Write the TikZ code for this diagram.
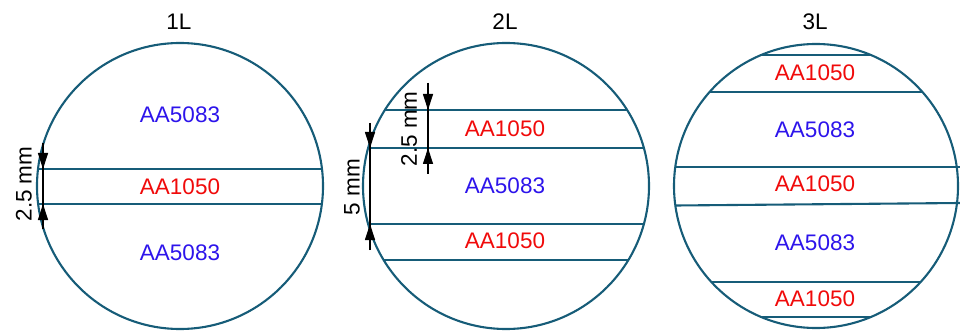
\documentclass[tikz,border=0pt]{standalone}
\usepackage{fontspec}
\setmainfont{Liberation Sans}
\usetikzlibrary{arrows.meta}
\definecolor{rim}{RGB}{22,92,120}
\definecolor{alblue}{RGB}{45,20,235}
\definecolor{alred}{RGB}{240,10,10}

\begin{document}
\begin{tikzpicture}[x=1pt, y=-1pt, font=\fontsize{22.5}{26}\selectfont,
  layer/.style={draw=rim, line width=2.1pt},
  core/.style={text=alblue},
  clad/.style={text=alred},
  dimline/.style={black, line width=1.2pt},
  dimarrow/.style={black, line width=1.2pt, -{Triangle[length=16pt,width=10pt]}}]
  \useasboundingbox (0,0) rectangle (960,331);
  % 1L
  \node (t1) at (179,22) {1L};
  \begin{scope}
    \clip (180,186) circle (143pt);
    \draw[layer] (30,169) -- (330,169);
    \draw[layer] (30,204) -- (330,204);
  \end{scope}
  \draw[layer] (180,186) circle (143pt);
  \node[core] (a1) at (180,115) {AA5083};
  \node[clad] (b1) at (180,187) {AA1050};
  \node[core] (c1) at (180,253) {AA5083};
  % 2.5 mm
  \coordinate (d1s) at (43,143);
  \coordinate (d1a) at (43,169);
  \coordinate (d1b) at (43,204);
  \coordinate (d1e) at (43,229);
  \draw[dimline] (d1s) -- (d1e);
  \draw[dimarrow] (d1s) -- (d1a);
  \draw[dimarrow] (d1e) -- (d1b);
  \node[rotate=90] (m1) at (24,184) {2.5 mm};

  % 2L
  \node (t2) at (505,22) {2L};
  \begin{scope}
    \clip (506,186) circle (143pt);
    \foreach \yy in {110,148,224,260}
      \draw[layer] (350,\yy) -- (660,\yy);
  \end{scope}
  \draw[layer] (506,186) circle (143pt);
  \node[clad] (a2) at (505,129) {AA1050};
  \node[core] (b2) at (505,186) {AA5083};
  \node[clad] (c2) at (505,241) {AA1050};
  % 2.5 mm
  \coordinate (d2s) at (428,83);
  \coordinate (d2a) at (428,110);
  \coordinate (d2b) at (428,148);
  \coordinate (d2e) at (428,174);
  \draw[dimline] (d2s) -- (d2e);
  \draw[dimarrow] (d2s) -- (d2a);
  \draw[dimarrow] (d2e) -- (d2b);
  \node[rotate=90] (m2) at (409,129) {2.5 mm};
  % 5 mm
  \coordinate (d3s) at (370,123);
  \coordinate (d3a) at (370,148);
  \coordinate (d3b) at (370,224);
  \coordinate (d3e) at (370,250);
  \draw[dimline] (d3s) -- (d3e);
  \draw[dimarrow] (d3s) -- (d3a);
  \draw[dimarrow] (d3e) -- (d3b);
  \node[rotate=90] (m3) at (352,187) {5 mm};

  % 3L
  \node (t3) at (815,22) {3L};
  \begin{scope}
    \clip (816,186) circle (142pt);
    \foreach \yy in {55,92,282,317}
      \draw[layer] (660,\yy) -- (970,\yy);
  \end{scope}
  \draw[layer] (675.3,167) -- (960,167);
  \draw[layer] (675.3,205.5) -- (960,203);
  \draw[layer] (816,186) circle (142pt);
  \node[clad] (a3) at (815,73) {AA1050};
  \node[core] (b3) at (815,130) {AA5083};
  \node[clad] (c3) at (815,184) {AA1050};
  \node[core] (d3) at (815,243) {AA5083};
  \node[clad] (e3) at (815,299) {AA1050};
\end{tikzpicture}
\end{document}
